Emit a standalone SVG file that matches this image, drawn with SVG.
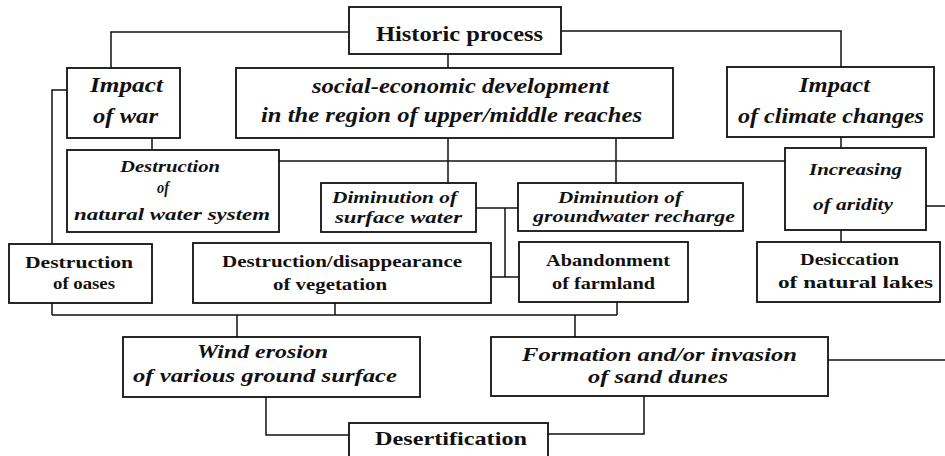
<svg xmlns="http://www.w3.org/2000/svg" width="945" height="456" viewBox="0 0 945 456">
<style>
.box{fill:#fff;stroke:#111;stroke-width:1.8}
.ln{fill:none;stroke:#111;stroke-width:1.5}
text{font-family:"Liberation Serif","Times New Roman",serif;font-weight:bold;fill:#111}
.i{font-style:italic}
.s21{font-size:21px}.s19{font-size:19px}.s16{font-size:17px}.s15{font-size:16px}
</style>
<rect width="945" height="456" fill="#fff"/>
<g id="connectors">
<polyline class="ln" points="349,32 111,32 111,68"/>
<polyline class="ln" points="561,31 841,31 841,67"/>
<line class="ln" x1="448" y1="54" x2="448" y2="68"/>
<polyline class="ln" points="67,90 52,90 52,244"/>
<line class="ln" x1="152" y1="138" x2="152" y2="150"/>
<line class="ln" x1="448" y1="138" x2="448" y2="183"/>
<line class="ln" x1="616" y1="138" x2="616" y2="183"/>
<line class="ln" x1="279" y1="161" x2="785" y2="161"/>
<line class="ln" x1="841" y1="137" x2="841" y2="148"/>
<line class="ln" x1="841" y1="230" x2="841" y2="242"/>
<line class="ln" x1="926" y1="206" x2="945" y2="206"/>
<line class="ln" x1="476" y1="208" x2="518" y2="208"/>
<line class="ln" x1="505" y1="208" x2="505" y2="277"/>
<line class="ln" x1="491" y1="277" x2="519" y2="277"/>
<line class="ln" x1="52" y1="303" x2="52" y2="315"/>
<line class="ln" x1="335" y1="303" x2="335" y2="315"/>
<line class="ln" x1="617" y1="302" x2="617" y2="315"/>
<line class="ln" x1="52" y1="315" x2="617" y2="315"/>
<line class="ln" x1="237" y1="315" x2="237" y2="337"/>
<line class="ln" x1="575" y1="315" x2="575" y2="337"/>
<line class="ln" x1="828" y1="360" x2="945" y2="360"/>
<polyline class="ln" points="266,397 266,435 349,435"/>
<polyline class="ln" points="644,396 644,434 548,434"/>
</g>
<g id="historic">
<rect class="box" x="349" y="7" width="212" height="47"/>
<text class="s21" x="376" y="41" textLength="167" lengthAdjust="spacingAndGlyphs">Historic process</text>
</g>
<g id="war">
<rect class="box" x="67" y="68" width="113" height="70"/>
<text class="s21 i" x="90" y="92" textLength="73" lengthAdjust="spacingAndGlyphs">Impact</text>
<text class="s21 i" x="93" y="123" textLength="65" lengthAdjust="spacingAndGlyphs">of war</text>
</g>
<g id="social">
<rect class="box" x="236" y="68" width="437" height="70"/>
<text class="s21 i" x="312" y="93" textLength="297" lengthAdjust="spacingAndGlyphs">social-economic development</text>
<text class="s21 i" x="261" y="122" textLength="381" lengthAdjust="spacingAndGlyphs">in the region of upper/middle reaches</text>
</g>
<g id="climate">
<rect class="box" x="727" y="67" width="207" height="70"/>
<text class="s21 i" x="799" y="92" textLength="71" lengthAdjust="spacingAndGlyphs">Impact</text>
<text class="s21 i" x="738" y="123" textLength="186" lengthAdjust="spacingAndGlyphs">of climate changes</text>
</g>
<g id="water-system">
<rect class="box" x="67" y="150" width="212" height="82"/>
<text class="s15 i" x="120" y="172" textLength="100" lengthAdjust="spacingAndGlyphs">Destruction</text>
<text class="s15 i" x="157" y="193" textLength="12" lengthAdjust="spacingAndGlyphs">of</text>
<text class="s15 i" x="74" y="220" textLength="196" lengthAdjust="spacingAndGlyphs">natural  water  system</text>
</g>
<g id="surface-water">
<rect class="box" x="321" y="183" width="155" height="49"/>
<text class="s15 i" x="332" y="203" textLength="125" lengthAdjust="spacingAndGlyphs">Diminution  of</text>
<text class="s15 i" x="335" y="223" textLength="127" lengthAdjust="spacingAndGlyphs">surface  water</text>
</g>
<g id="groundwater">
<rect class="box" x="518" y="183" width="225" height="48"/>
<text class="s15 i" x="558" y="203" textLength="124" lengthAdjust="spacingAndGlyphs">Diminution  of</text>
<text class="s15 i" x="533" y="222" textLength="202" lengthAdjust="spacingAndGlyphs">groundwater  recharge</text>
</g>
<g id="aridity">
<rect class="box" x="785" y="148" width="141" height="82"/>
<text class="s15 i" x="809" y="175" textLength="93" lengthAdjust="spacingAndGlyphs">Increasing</text>
<text class="s15 i" x="813" y="210" textLength="80" lengthAdjust="spacingAndGlyphs">of aridity</text>
</g>
<g id="oases">
<rect class="box" x="9" y="244" width="143" height="59"/>
<text class="s16" x="25" y="268" textLength="108" lengthAdjust="spacingAndGlyphs">Destruction</text>
<text class="s16" x="53" y="289" textLength="62" lengthAdjust="spacingAndGlyphs">of oases</text>
</g>
<g id="vegetation">
<rect class="box" x="193" y="243" width="298" height="60"/>
<text class="s16" x="222" y="267" textLength="240" lengthAdjust="spacingAndGlyphs">Destruction/disappearance</text>
<text class="s16" x="273" y="290" textLength="114" lengthAdjust="spacingAndGlyphs">of vegetation</text>
</g>
<g id="farmland">
<rect class="box" x="519" y="242" width="169" height="60"/>
<text class="s16" x="546" y="266" textLength="124" lengthAdjust="spacingAndGlyphs">Abandonment</text>
<text class="s16" x="552" y="289" textLength="103" lengthAdjust="spacingAndGlyphs">of farmland</text>
</g>
<g id="lakes">
<rect class="box" x="757" y="242" width="183" height="60"/>
<text class="s16" x="800" y="265" textLength="99" lengthAdjust="spacingAndGlyphs">Desiccation</text>
<text class="s16" x="778" y="288" textLength="155" lengthAdjust="spacingAndGlyphs">of natural lakes</text>
</g>
<g id="wind">
<rect class="box" x="123" y="337" width="297" height="60"/>
<text class="s19 i" x="197" y="358" textLength="131" lengthAdjust="spacingAndGlyphs">Wind erosion</text>
<text class="s19 i" x="133" y="382" textLength="264" lengthAdjust="spacingAndGlyphs">of various ground surface</text>
</g>
<g id="dunes">
<rect class="box" x="491" y="337" width="337" height="59"/>
<text class="s19 i" x="522" y="361" textLength="275" lengthAdjust="spacingAndGlyphs">Formation and/or invasion</text>
<text class="s19 i" x="588" y="383" textLength="140" lengthAdjust="spacingAndGlyphs">of sand dunes</text>
</g>
<g id="desertification">
<rect class="box" x="349" y="423" width="199" height="50"/>
<text class="s19" x="375" y="445" textLength="152" lengthAdjust="spacingAndGlyphs">Desertification</text>
</g>
</svg>
